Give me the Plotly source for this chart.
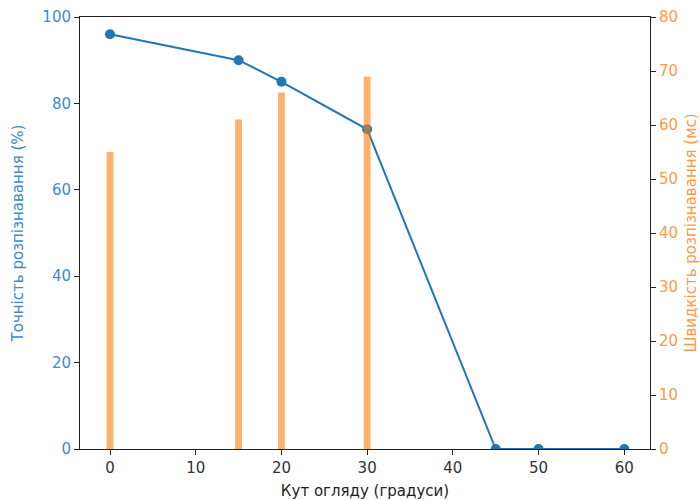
import plotly.graph_objects as go

angles = [0, 15, 20, 30, 45, 50, 60]
accuracy = [96, 90, 85, 74, 0, 0, 0]
speed = [55, 61, 66, 69, 0, 0, 0]

x_title = "Кут огляду (градуси)"
y1_title = "Точність розпізнавання (%)"
y2_title = "Швидкість розпізнавання (мс)"

blue = "#1f77b4"
orange = "#ff7f0e"
blue_txt = "#3a8cc9"
orange_txt = "#ff9a45"

fig = go.Figure()
fig.add_trace(go.Scatter(x=angles, y=accuracy, mode="lines+markers",
                         line=dict(color=blue, width=2),
                         marker=dict(color=blue, size=10), yaxis="y"))
fig.add_trace(go.Bar(x=angles, y=speed, width=0.8,
                     marker=dict(color=orange, opacity=0.6, line=dict(width=0)),
                     yaxis="y2"))

fs = 15
fig.update_layout(
    width=700, height=500,
    margin=dict(l=80, r=50, t=17, b=51),
    paper_bgcolor="white", plot_bgcolor="white",
    showlegend=False,
    font=dict(family="DejaVu Sans", size=fs),
    xaxis=dict(range=[-3.5, 63.0], tickvals=[0, 10, 20, 30, 40, 50, 60],
               automargin=False,
               showgrid=False, zeroline=False, showline=True, linecolor="#222",
               linewidth=1, mirror=True, ticks="outside", ticklen=5, tickcolor="#222",
               tickfont=dict(color="#333", size=fs),
               title=dict(text=x_title, font=dict(color="#222", size=fs))),
    yaxis=dict(range=[0, 100], tickvals=[0, 20, 40, 60, 80, 100],
               automargin=False,
               showgrid=False, zeroline=False, showline=True, linecolor="#222",
               linewidth=1, ticks="outside", ticklen=5, tickcolor="#222",
               tickfont=dict(color=blue_txt, size=fs),
               title=dict(text=y1_title, font=dict(color=blue_txt, size=fs))),
    yaxis2=dict(range=[0, 80], tickvals=[0, 10, 20, 30, 40, 50, 60, 70, 80],
                overlaying="y", side="right", automargin=False,
                showgrid=False, zeroline=False, showline=True, linecolor="#222",
                linewidth=1, ticks="outside", ticklen=5, tickcolor="#222",
                tickfont=dict(color=orange_txt, size=fs),
                title=dict(text=y2_title, font=dict(color=orange_txt, size=fs))),
)

fig.write_html("out.html")
